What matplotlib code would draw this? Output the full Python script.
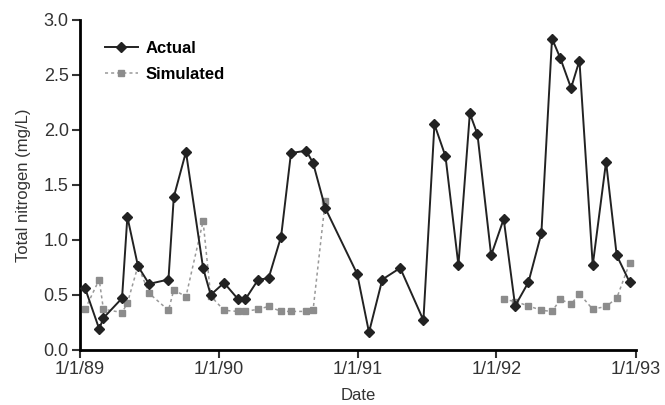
import numpy as np
import pandas as pd
import matplotlib
matplotlib.use("Agg")
import matplotlib.pyplot as plt

# sampling dates (shared by both series)
dates = pd.to_datetime([
    "1989-01-15", "1989-02-21", "1989-03-04", "1989-04-22", "1989-05-06", "1989-06-03",
    "1989-07-02", "1989-08-22", "1989-09-05", "1989-10-07", "1989-11-21", "1989-12-11",
    "1990-01-15", "1990-02-20", "1990-03-12", "1990-04-15", "1990-05-12", "1990-06-14",
    "1990-07-10", "1990-08-19", "1990-09-06", "1990-10-08", "1990-12-31",
    "1991-01-31", "1991-03-07", "1991-04-23", "1991-06-23", "1991-07-22", "1991-08-20",
    "1991-09-23", "1991-10-23", "1991-11-12", "1991-12-18",
    "1992-01-20", "1992-02-19", "1992-03-25", "1992-04-28", "1992-05-26", "1992-06-17",
    "1992-07-15", "1992-08-06", "1992-09-10", "1992-10-15", "1992-11-12", "1992-12-16",
])

actual = [
    0.56, 0.19, 0.29, 0.47, 1.21, 0.76, 0.60, 0.64, 1.39, 1.80, 0.745, 0.50,
    0.61, 0.465, 0.46, 0.64, 0.65, 1.03, 1.79, 1.81, 1.70, 1.29, 0.69,
    0.16, 0.64, 0.745, 0.27, 2.05, 1.76, 0.77, 2.15, 1.96, 0.86,
    1.19, 0.40, 0.615, 1.06, 2.83, 2.65, 2.38, 2.63, 0.77, 1.71, 0.86, 0.615,
]

nan = np.nan
simulated = [
    0.37, 0.64, 0.37, 0.34, 0.425, 0.765, 0.515, 0.36, 0.545, 0.485, 1.17, 0.49,
    0.36, 0.35, 0.35, 0.37, 0.395, 0.35, 0.35, 0.35, 0.36, 1.35, nan,
    nan, nan, nan, nan, nan, nan, nan, nan, nan, nan,
    0.46, 0.44, 0.40, 0.36, 0.35, 0.46, 0.415, 0.51, 0.37, 0.395, 0.47, 0.79,
]

year_ticks = pd.to_datetime(["1989-01-01", "1990-01-01", "1991-01-01", "1992-01-01", "1993-01-01"])
year_labels = ["1/1/89", "1/1/90", "1/1/91", "1/1/92", "1/1/93"]
y_ticks = [0.0, 0.5, 1.0, 1.5, 2.0, 2.5, 3.0]

plt.rcParams["font.family"] = ["Liberation Sans", "DejaVu Sans"]

fig = plt.figure(figsize=(6.65, 4.05), dpi=100)
ax = fig.add_axes([0.12, 0.136, 0.836, 0.815])

ax.plot(dates, simulated, color="#999999", linestyle=(0, (2, 2)), linewidth=1.1,
        marker="s", markersize=5, markerfacecolor="#8c8c8c", markeredgecolor="#8c8c8c",
        label="Simulated", zorder=2)
ax.plot(dates, actual, color="#222222", linewidth=1.4,
        marker="D", markersize=5, markerfacecolor="#222222", markeredgecolor="#222222",
        label="Actual", zorder=3)

ax.set_xlim(year_ticks[0], year_ticks[-1])
ax.set_ylim(0, 3.0)
ax.set_xticks(year_ticks)
ax.set_xticklabels(year_labels)
ax.set_yticks(y_ticks)
ax.set_yticklabels([f"{v:.1f}" for v in y_ticks])

for side in ["top", "right"]:
    ax.spines[side].set_visible(False)
for side in ["left", "bottom"]:
    ax.spines[side].set_linewidth(2)
ax.tick_params(axis="both", direction="out", length=6, width=1.5, labelsize=13,
               colors="#333333", pad=2)

ax.set_xlabel("Date", fontsize=12, color="#333333", labelpad=7)
ax.set_ylabel("Total nitrogen (mg/L)", fontsize=12, color="#333333", labelpad=9)

handles, labels = ax.get_legend_handles_labels()
leg = ax.legend(handles[::-1], labels[::-1], loc="upper left", bbox_to_anchor=(0.045, 0.935),
                borderaxespad=0, borderpad=0, frameon=False,
                prop={"weight": "bold", "size": 12},
                handlelength=2.0, handletextpad=0.42, labelspacing=0.62)

fig.savefig("out.png", dpi=100)
